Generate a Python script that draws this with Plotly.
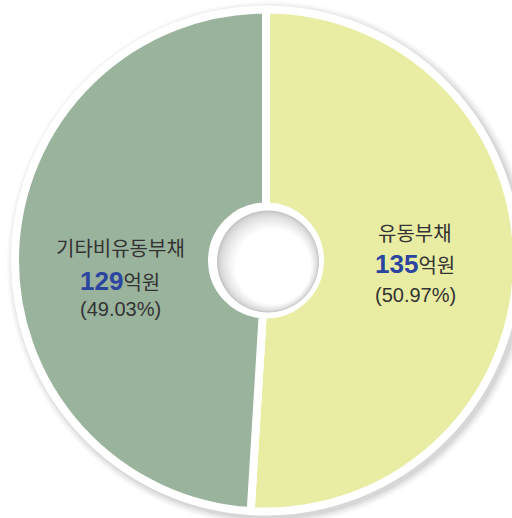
import plotly.graph_objects as go

# ---- data ----
labels = ["유동부채", "기타비유동부채"]
amounts = [135, 129]          # 억원
percents = [50.97, 49.03]     # %
colors = ["#E9EDA3", "#9AB39D"]

# figure is a bit wider than the window so the pie gets clipped on the right, as in the reference
W, H = 530, 518
CX, CY, R = 266, 260.5, 251   # pixel geometry of pie (outer edge incl. white stroke)

def px(x):
    return x / W

def py(y):
    return 1 - y / H

fig = go.Figure()

fig.add_trace(go.Pie(
    labels=labels,
    values=percents,
    sort=False,
    direction="clockwise",
    rotation=0,
    hole=0.215,
    marker=dict(colors=colors, line=dict(color="white", width=8)),
    textinfo="none",
    hoverinfo="label+percent",
    showlegend=False,
    domain=dict(x=[px(CX - R), px(CX + R)], y=[py(CY + R), py(CY - R)]),
))

shapes = []
# outer shadow
for rr, op in [(262, 0.025), (260, 0.035), (258, 0.045), (256, 0.06)]:
    ox, oy = CX + 3, CY + 3
    shapes.append(dict(type="circle", xref="paper", yref="paper", layer="below",
                       x0=px(ox - rr), x1=px(ox + rr), y0=py(oy + rr), y1=py(oy - rr),
                       fillcolor=f"rgba(0,0,0,{op})", line=dict(width=0)))
# white outer ring
ro = 254
shapes.append(dict(type="circle", xref="paper", yref="paper", layer="below",
                   x0=px(CX - ro), x1=px(CX + ro), y0=py(CY + ro), y1=py(CY - ro),
                   fillcolor="white", line=dict(width=0)))

# inner inset gradient in the hole
hx, hy = CX + 2, CY + 1
n = 14
for i in range(n):
    t = i / (n - 1)
    rr = 51 - t * 13
    g = int(196 + (255 - 196) * (t ** 0.6))
    ox = hx + t * 5
    oy = hy + t * 5
    shapes.append(dict(type="circle", xref="paper", yref="paper", layer="above",
                       x0=px(ox - rr), x1=px(ox + rr), y0=py(oy + rr), y1=py(oy - rr),
                       fillcolor=f"rgb({g},{g},{g})", line=dict(width=0)))
shapes.append(dict(type="circle", xref="paper", yref="paper", layer="above",
                   x0=px(hx + 6 - 36), x1=px(hx + 6 + 36), y0=py(hy + 6 + 36), y1=py(hy + 6 - 36),
                   fillcolor="white", line=dict(width=0)))

KR = "Noto Sans CJK KR"
NUM = "Liberation Sans"
txtcol = "#333333"
numcol = "#2B45A0"

# label positions (pixel) per slice
label_pos = [(415, 232, 264, 295), (120, 247, 281, 309)]

annotations = []
for lab, amt, pct, (lx, y1, y2, y3) in zip(labels, amounts, percents, label_pos):
    common = dict(xref="paper", yref="paper", showarrow=False, xanchor="center", yanchor="middle")
    annotations.append(dict(x=px(lx), y=py(y1), text=lab,
                            font=dict(family=KR, size=20, color=txtcol), **common))
    annotations.append(dict(x=px(lx), y=py(y2),
                            text=f"<b><span style='font-family:{NUM};font-size:26px;color:{numcol}'>{amt}</span></b>억원",
                            font=dict(family=KR, size=20, color=txtcol), **common))
    annotations.append(dict(x=px(lx), y=py(y3), text=f"({pct:.2f}%)",
                            font=dict(family=NUM, size=20, color=txtcol), **common))

fig.update_layout(
    width=W, height=H,
    margin=dict(l=0, r=0, t=0, b=0),
    paper_bgcolor="white",
    plot_bgcolor="white",
    shapes=shapes,
    annotations=annotations,
)

fig.write_html("out.html",
               config={"displayModeBar": False},
               post_script="document.body.style.margin='0';document.body.style.overflow='hidden';")
